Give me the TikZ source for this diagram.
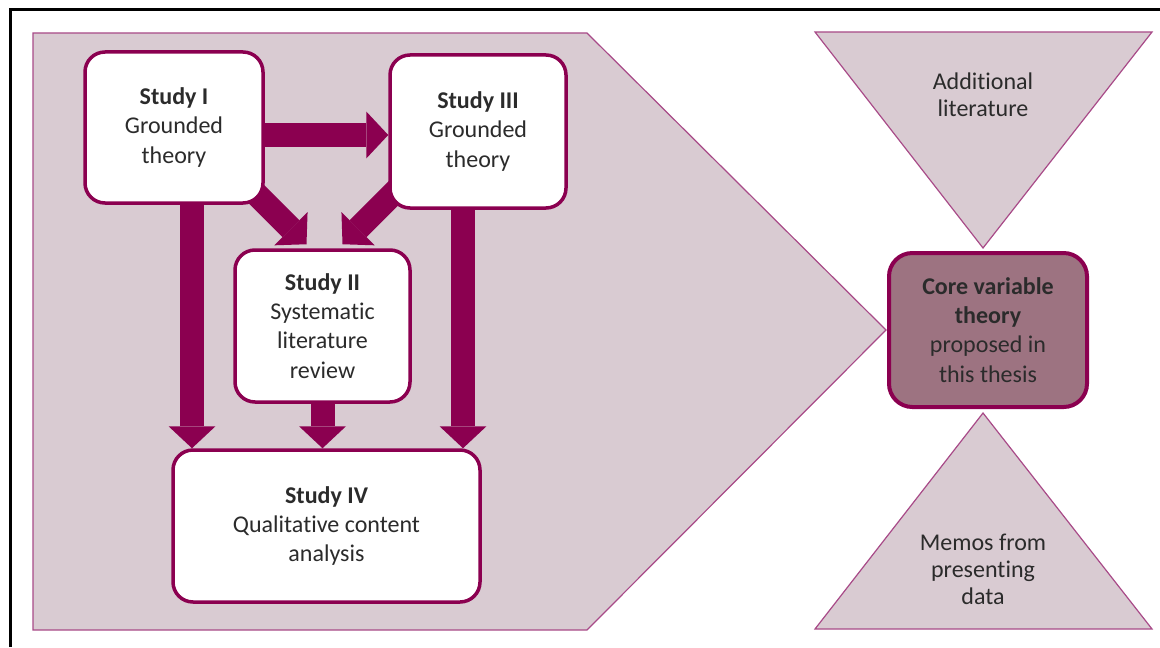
\documentclass[tikz,border=0pt]{standalone}
\usepackage{fontspec}
\setmainfont{Carlito}[Ligatures=NoCommon]
\usetikzlibrary{arrows.meta,positioning,calc,backgrounds}
\definecolor{ThesisPlum}{HTML}{8B0050}
\definecolor{ThesisMist}{HTML}{D9CBD2}
\definecolor{ThesisEdge}{HTML}{A84A88}
\definecolor{ThesisCore}{HTML}{9D7381}
\definecolor{ThesisText}{HTML}{2B2B2B}
\newcommand{\pxu}{0.03cm}
\tikzset{
  studybox/.style={draw=ThesisPlum,line width=3.5*\pxu,rounded corners=0.6cm,fill=white,align=center,inner sep=0pt,font=\fontsize{20.5}{25}\selectfont,text=ThesisText},
  corebox/.style={studybox,fill=ThesisCore,line width=4*\pxu,rounded corners=0.7cm},
  mistshape/.style={fill=ThesisMist,draw=ThesisEdge,line width=1.2*\pxu,line join=miter},
  bigarrow/.style={-{Triangle[length=0.66cm,width=1.41cm,line width=0pt]},line width=24*\pxu,draw=ThesisPlum,line cap=butt},
  tritext/.style={align=center,font=\fontsize{20.5}{23}\selectfont,text=ThesisText}
}

\begin{document}
\begin{tikzpicture}[x=\pxu,y=-\pxu]
  \useasboundingbox (0,0) rectangle (1160,647);
  \draw[line width=3*\pxu] (10,647) -- (10,10) -- (1160,10);

  % studies
  \node[studybox,minimum width=178*\pxu,minimum height=151*\pxu] (s1) at (174,127.5) {\textbf{Study I}\\Grounded\\theory};
  \node[studybox,minimum width=176*\pxu,minimum height=153*\pxu] (s3) at (478,131.5) {\textbf{Study III}\\Grounded\\theory};
  \node[studybox,minimum width=175*\pxu,minimum height=152*\pxu] (s2) at (322.5,326) {\textbf{Study II}\\Systematic\\literature\\review};
  \node[studybox,minimum width=307*\pxu,minimum height=152*\pxu] (s4) at (326.5,526) {\textbf{Study IV}\\Qualitative content\\analysis};

  % core and side inputs
  \node[corebox,minimum width=198*\pxu,minimum height=154*\pxu] (core) at (988,330) {\textbf{Core variable}\\\textbf{theory}\\proposed in\\this thesis};
  \node[tritext] (addlit) at (983,95) {Additional\\literature};
  \node[tritext] (memos) at (983,569) {Memos from\\presenting\\data};

  \coordinate (f13) at ($(s1.east)+(0,7.5)$);
  \coordinate (f14) at ($(s1.south)+(18,0)$);
  \coordinate (f34) at ($(s3.south)+(-15,0)$);
  \coordinate (t21) at ($(s2.north)+(-16,-4)$);
  \coordinate (t23) at ($(s2.north)+(20,-4)$);
  \coordinate (f12) at ($(t21)+(-65,-65)$);
  \coordinate (f32) at ($(t23)+(60,-60)$);

  \begin{scope}[on background layer]
    \draw[mistshape] (33,33) -- (587,33) -- (886,330) -- (587,630) -- (33,630) -- cycle;
    \draw[mistshape] (815,32) -- (1152,32) -- (983,248) -- cycle;
    \draw[mistshape] (983,413) -- (1152,629) -- (815,629) -- cycle;

    \draw[bigarrow] (f13) -- (f13 -| s3.west);
    \draw[bigarrow] (f14) -- (f14 |- s4.north);
    \draw[bigarrow] (f34) -- (f34 |- s4.north);
    \draw[bigarrow] (s2.south) -- (s2.south |- s4.north);
    \draw[bigarrow] (f12) -- (t21);
    \draw[bigarrow] (f32) -- (t23);
  \end{scope}
\end{tikzpicture}
\end{document}
